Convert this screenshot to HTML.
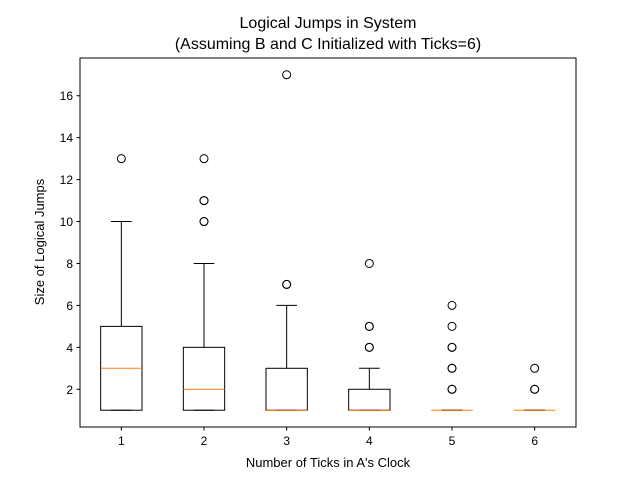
<!DOCTYPE html>
<html><head><meta charset="utf-8"><style>
body{margin:0;background:#fff}
svg{font-family:"Liberation Sans","DejaVu Sans",sans-serif}
</style></head><body>
<svg id="c" width="640" height="480" viewBox="0 0 640 480">
<text x="328" y="28" text-anchor="middle" font-size="16">Logical Jumps in System</text>
<text x="328" y="49" text-anchor="middle" font-size="16">(Assuming B and C Initialized with Ticks=6)</text>
<text x="328" y="467" text-anchor="middle" font-size="13">Number of Ticks in A's Clock</text>
<text transform="translate(44,242) rotate(-90)" text-anchor="middle" font-size="13">Size of Logical Jumps</text>
<g id="marks"></g>
<rect x="80" y="58" width="496" height="369" fill="none" stroke="#000" stroke-width="1"/>
</svg>
<script>
const categories=["1","2","3","4","5","6"];
const whisLo=[1,1,1,1,1,1];
const q1=[1,1,1,1,1,1];
const medians=[3,2,1,1,1,1];
const q3=[5,4,3,2,1,1];
const whisHi=[10,8,6,3,1,1];
const fliers=[[13],[10,10,11,11,13],[7,7,17],[4,4,5,5,8],[2,2,3,3,4,4,5,6],[2,2,3]];
const yTicks=[2,4,6,8,10,12,14,16];
const L=80,R=576,T=58,B=427,ymin=0.2,ymax=17.8;
const xs=i=>L+(i+0.5)*(R-L)/categories.length;
const ys=v=>B-(v-ymin)*(B-T)/(ymax-ymin);
const g=document.getElementById('marks');
const NS='http://www.w3.org/2000/svg';
function mk(t,a){const e=document.createElementNS(NS,t);for(const k in a)e.setAttribute(k,a[k]);g.appendChild(e);return e;}
const unit=(R-L)/categories.length;
yTicks.forEach(v=>{
 const y=ys(v);
 const t=mk('line',{x1:L-3.5,x2:L,y1:y,y2:y,stroke:'#000'});
 
 
 const l=mk('text',{x:L-7,y:y+4.5,'text-anchor':'end','font-size':12});
 l.textContent=v;
 
 
});
categories.forEach((c,i)=>{
 const x=xs(i),hw=unit*0.25,cw=unit*0.125;
 const t=mk('line',{x1:x,x2:x,y1:B,y2:B+3.5,stroke:'#000'});
 
 
 const l=mk('text',{x:x,y:B+18,'text-anchor':'middle','font-size':12});
 l.textContent=c;
 
 
 const w1=mk('line',{x1:x,x2:x,y1:ys(q1[i]),y2:ys(whisLo[i]),stroke:'#000'});
 
 
 const w2=mk('line',{x1:x,x2:x,y1:ys(q3[i]),y2:ys(whisHi[i]),stroke:'#000'});
 
 
 [whisLo[i],whisHi[i]].forEach(v=>{
  const cp=mk('line',{x1:x-cw,x2:x+cw,y1:ys(v),y2:ys(v),stroke:'#000'});
  
  
 });
 const bx=mk('rect',{x:x-hw,y:ys(q3[i]),width:2*hw,height:Math.max(0,ys(q1[i])-ys(q3[i])),fill:'none',stroke:'#000'});
 
 
 const md=mk('line',{x1:x-hw,x2:x+hw,y1:ys(medians[i]),y2:ys(medians[i]),stroke:'#ff7f0e'});
 
 
 fliers[i].forEach(v=>{
  const f=mk('circle',{cx:x,cy:ys(v),r:4,fill:'none',stroke:'#000'});
  
  
 });
});
</script>
</body></html>
